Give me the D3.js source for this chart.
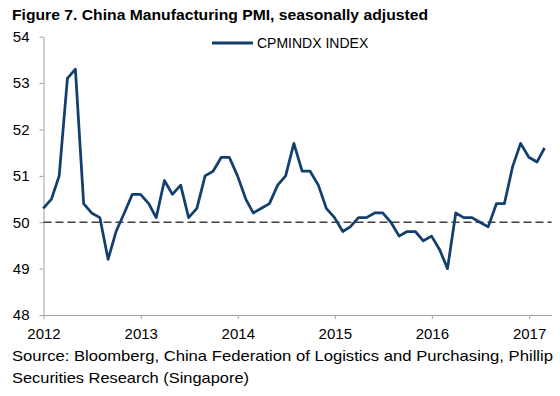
<!DOCTYPE html>
<html>
<head>
<meta charset="utf-8">
<script src="https://cdn.jsdelivr.net/npm/d3@7"></script>
<style>
  body { margin: 0; background: #fff; }
  svg { display: block; font-family: "Liberation Sans", Arial, sans-serif; }
</style>
</head>
<body>
<div id="chart"></div>
<script>
// monthly readings, first one is Dec 2011 (plotted at month end)
const startMonth = "2011-12";
const pmi = [50.3,
  50.5, 51.0, 53.1, 53.3, 50.4, 50.2, 50.1, 49.2, 49.8, 50.2, 50.6, 50.6,
  50.4, 50.1, 50.9, 50.6, 50.8, 50.1, 50.3, 51.0, 51.1, 51.4, 51.4, 51.0,
  50.5, 50.2, 50.3, 50.4, 50.8, 51.0, 51.7, 51.1, 51.1, 50.8, 50.3, 50.1,
  49.8, 49.9, 50.1, 50.1, 50.2, 50.2, 50.0, 49.7, 49.8, 49.8, 49.6, 49.7,
  49.4, 49.0, 50.2, 50.1, 50.1, 50.0, 49.9, 50.4, 50.4, 51.2, 51.7, 51.4,
  51.3, 51.6];
const yTicks = [48, 49, 50, 51, 52, 53, 54];
const xTicks = ["2012", "2013", "2014", "2015", "2016", "2017"];
const threshold = 50;
const seriesName = "CPMINDX INDEX";
const title = "Figure 7. China Manufacturing PMI, seasonally adjusted";
const sourceLines = [
  "Source: Bloomberg, China Federation of Logistics and Purchasing, Phillip",
  "Securities Research (Singapore)"
];

const WIDTH = 560, HEIGHT = 396;
const LINE_COLOR = "#123f6e";
const AXIS_COLOR = "#a0a0a0";

const parseMonth = d3.timeParse("%Y-%m");
const parseYear = d3.timeParse("%Y");
const start = parseMonth(startMonth);
const data = pmi.map((v, i) => ({
  date: d3.timeDay.offset(d3.timeMonth.offset(start, i + 1), -1),
  value: v
}));

const svg = d3.select("#chart").append("svg")
  .attr("width", WIDTH)
  .attr("height", HEIGHT);

const x = d3.scaleTime()
  .domain([parseYear(xTicks[0]), new Date(2017, 2, 27)])
  .range([43.5, 551.7]);
const y = d3.scaleLinear()
  .domain([d3.min(yTicks), d3.max(yTicks)])
  .range([315, 36.7]);

// title
svg.append("text")
  .attr("x", 12)
  .attr("y", 20)
  .attr("font-size", "15px")
  .attr("font-weight", "bold")
  .attr("fill", "#000")
  .attr("textLength", 416)
  .attr("lengthAdjust", "spacingAndGlyphs")
  .text(title);

// y axis
const yAxis = svg.append("g")
  .attr("transform", `translate(${x.range()[0]},0)`)
  .call(d3.axisLeft(y).tickValues(yTicks).tickSize(4).tickPadding(10).tickSizeOuter(0).tickFormat(d3.format("d")));

// x axis
const xAxis = svg.append("g")
  .attr("transform", `translate(0,${y.range()[0]})`)
  .call(d3.axisBottom(x).tickValues(xTicks.map(parseYear)).tickSize(4).tickPadding(9).tickSizeOuter(0)
    .tickFormat(d3.timeFormat("%Y")));

[yAxis, xAxis].forEach(g => {
  g.select(".domain").attr("stroke", AXIS_COLOR).attr("stroke-width", 1);
  g.selectAll(".tick line").attr("stroke", AXIS_COLOR);
  g.selectAll(".tick text")
    .attr("font-size", "15px")
    .attr("font-family", "\"Liberation Sans\", Arial, sans-serif")
    .attr("fill", "#000");
});

// 50 line
svg.append("line")
  .attr("x1", x.range()[0])
  .attr("x2", x.range()[1])
  .attr("y1", y(threshold))
  .attr("y2", y(threshold))
  .attr("stroke", "#404040")
  .attr("stroke-width", 1.5)
  .attr("stroke-dasharray", "8,4");

// the series
const line = d3.line()
  .x(d => x(d.date))
  .y(d => y(d.value));

svg.append("path")
  .datum(data)
  .attr("d", line)
  .attr("fill", "none")
  .attr("stroke", LINE_COLOR)
  .attr("stroke-width", 2.75)
  .attr("stroke-linejoin", "round");

// legend
const legend = svg.append("g").attr("transform", "translate(212,43)");
legend.append("line")
  .attr("x1", 0).attr("x2", 41)
  .attr("stroke", LINE_COLOR)
  .attr("stroke-width", 3);
legend.append("text")
  .attr("x", 45)
  .attr("y", 5)
  .attr("font-size", "14px")
  .attr("fill", "#000")
  .text(seriesName);

// source note
const srcWidths = [541, 237];
svg.selectAll(".source")
  .data(sourceLines)
  .enter().append("text")
  .attr("class", "source")
  .attr("x", 12)
  .attr("y", (d, i) => 361 + i * 21.5)
  .attr("font-size", "15px")
  .attr("fill", "#000")
  .attr("textLength", (d, i) => srcWidths[i])
  .attr("lengthAdjust", "spacingAndGlyphs")
  .text(d => d);
</script>
</body>
</html>
